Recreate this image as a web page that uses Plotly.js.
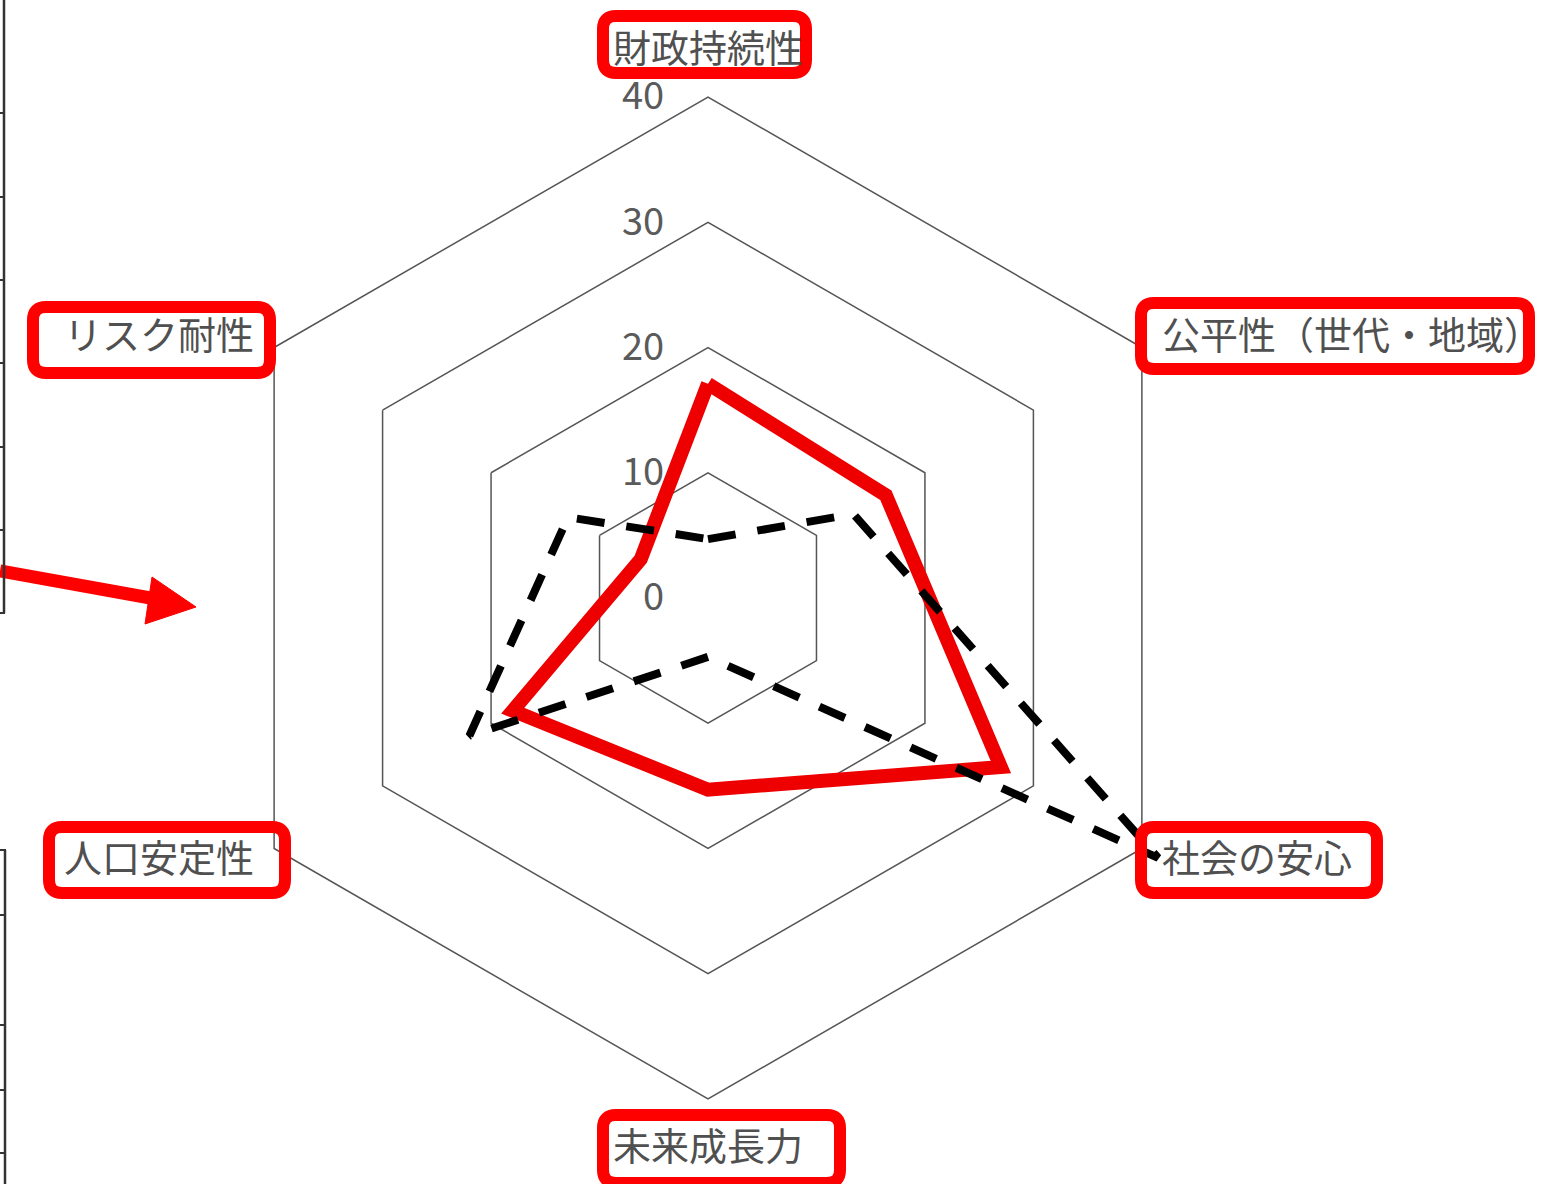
<!DOCTYPE html>
<html>
<head>
<meta charset="utf-8">
<script src="https://cdn.plot.ly/plotly-3.0.1.min.js"></script>
<style>
  html, body { margin: 0; padding: 0; background: #ffffff; }
  #chart { width: 1560px; height: 1184px; }
</style>
</head>
<body>
<div id="chart"></div>
<script>
// ---- data ----
const categories = ['財政持続性', '公平性（世代・地域）', '社会の安心', '未来成長力', '人口安定性', 'リスク耐性'];
const seriesRed = [17.1, 16.4, 27.0, 15.3, 18.0, 6.2];
const seriesDashed = [4.7, 13.4, 41.5, 4.7, 22.0, 12.9];
const radialTicks = [0, 10, 20, 30, 40];
const radialTickLabels = ['0', '10', '20', '30', '40'];

// ---- geometry (page pixels) ----
const W = 1560, H = 1184;
const CX = 708, CY = 598;        // centre of the radar
const R_GRID = 501;              // pixel radius of the 40 ring
const GRID_MAX = 40;
const AXIS_MAX = 43;             // a little headroom so the dashed line is not clipped
const R_AXIS = R_GRID * AXIS_MAX / GRID_MAX;

const px = x => x / W;
const py = y => 1 - y / H;
function closeLoop(arr) { return arr.concat([arr[0]]); }
function roundRect(x0, y0, x1, y1, r) {
  const p = (x, y) => px(x) + ',' + py(y);
  return 'M' + p(x0 + r, y0) + ' L' + p(x1 - r, y0) + ' Q' + p(x1, y0) + ' ' + p(x1, y0 + r) +
    ' L' + p(x1, y1 - r) + ' Q' + p(x1, y1) + ' ' + p(x1 - r, y1) +
    ' L' + p(x0 + r, y1) + ' Q' + p(x0, y1) + ' ' + p(x0, y1 - r) +
    ' L' + p(x0, y0 + r) + ' Q' + p(x0, y0) + ' ' + p(x0 + r, y0) + ' Z';
}

const traces = [
  {
    type: 'scatterpolar',
    mode: 'lines',
    r: closeLoop(seriesRed),
    theta: closeLoop(categories),
    line: { color: '#ee0000', width: 14 },
    hoverinfo: 'skip'
  },
  {
    type: 'scatterpolar',
    mode: 'lines',
    r: closeLoop(seriesDashed),
    theta: closeLoop(categories),
    line: { color: '#000000', width: 8, dash: '28px,22px' },
    hoverinfo: 'skip'
  }
];

// category labels placed just outside the 40 ring, one per spoke
const labelFont = { size: 38, color: '#505050', family: '"Noto Sans CJK JP", sans-serif' };
const annotations = categories.map((name, i) => {
  const a = (90 - 60 * i) * Math.PI / 180;
  const c = Math.cos(a), s = Math.sin(a);
  const vx = CX + R_GRID * c, vy = CY - R_GRID * s;
  let x = vx, y = vy, xanchor = 'center';
  if (Math.abs(c) < 0.1) {
    y = s > 0 ? vy - 52 : vy + 44;
  } else {
    x = vx + (c > 0 ? 18 : -18);
    xanchor = c > 0 ? 'left' : 'right';
    y = s > 0 ? vy - 15 : vy + 7;
  }
  return {
    xref: 'paper', yref: 'paper', x: px(x), y: py(y),
    xanchor: xanchor, yanchor: 'middle',
    text: name, showarrow: false, font: labelFont
  };
});

const redBoxes = [
  [603, 16, 806, 73],
  [1141, 303, 1529, 369],
  [1141, 827, 1377, 893],
  [603, 1115, 840, 1183],
  [49, 827, 285, 893],
  [33, 307, 270, 373]
];

const shapes = [];
redBoxes.forEach(b => {
  shapes.push({
    type: 'path', xref: 'paper', yref: 'paper',
    path: roundRect(b[0], b[1], b[2], b[3], 13),
    line: { color: '#ff0000', width: 12 },
    fillcolor: 'rgba(0,0,0,0)'
  });
});

// arrow
shapes.push({
  type: 'line', xref: 'paper', yref: 'paper',
  x0: px(0), y0: py(571), x1: px(156), y1: py(599),
  line: { color: '#ff0000', width: 13 }
});
shapes.push({
  type: 'path', xref: 'paper', yref: 'paper',
  path: 'M' + px(152) + ',' + py(577) + ' L' + px(196) + ',' + py(607) + ' L' + px(145) + ',' + py(624) + ' Z',
  fillcolor: '#ff0000',
  line: { color: '#ff0000', width: 1 }
});

// fragments of neighbouring chart axes at the left edge
shapes.push({ type: 'line', xref: 'paper', yref: 'paper', x0: px(4), y0: py(0), x1: px(4), y1: py(613), line: { color: '#333333', width: 2.5 } });
[113, 197, 280, 363, 447, 530, 613].forEach(y => {
  shapes.push({ type: 'line', xref: 'paper', yref: 'paper', x0: px(0), y0: py(y), x1: px(5), y1: py(y), line: { color: '#333333', width: 2 } });
});
shapes.push({ type: 'line', xref: 'paper', yref: 'paper', x0: px(5), y0: py(850), x1: px(5), y1: py(1184), line: { color: '#333333', width: 2.5 } });
[850, 915, 1025, 1090, 1153].forEach(y => {
  shapes.push({ type: 'line', xref: 'paper', yref: 'paper', x0: px(0), y0: py(y), x1: px(6), y1: py(y), line: { color: '#333333', width: 2 } });
});

const layout = {
  width: W,
  height: H,
  margin: { l: 0, r: 0, t: 0, b: 0, pad: 0 },
  paper_bgcolor: '#ffffff',
  showlegend: false,
  hovermode: false,
  font: { family: '"Noto Sans CJK JP", "Noto Sans", sans-serif', color: '#404040' },
  polar: {
    domain: {
      x: [px(CX - R_AXIS), px(CX + R_AXIS)],
      y: [py(CY + R_AXIS), py(CY - R_AXIS)]
    },
    bgcolor: 'rgba(0,0,0,0)',
    gridshape: 'linear',
    radialaxis: {
      range: [0, AXIS_MAX],
      tickvals: radialTicks,
      ticktext: radialTickLabels,
      angle: 90,
      side: 'counterclockwise',
      tickangle: 90,
      showline: false,
      ticks: 'outside',
      ticklen: 30,
      tickcolor: 'rgba(0,0,0,0)',
      gridcolor: '#555555',
      gridwidth: 1.5,
      tickfont: { size: 38, color: '#5a5a5a', family: '"Noto Sans CJK JP", sans-serif' }
    },
    angularaxis: {
      rotation: 90,
      direction: 'clockwise',
      showgrid: false,
      showline: false,
      showticklabels: false,
      ticks: ''
    }
  },
  annotations: annotations,
  shapes: shapes
};

Plotly.newPlot('chart', traces, layout, { displayModeBar: false, staticPlot: true });
</script>
</body>
</html>
